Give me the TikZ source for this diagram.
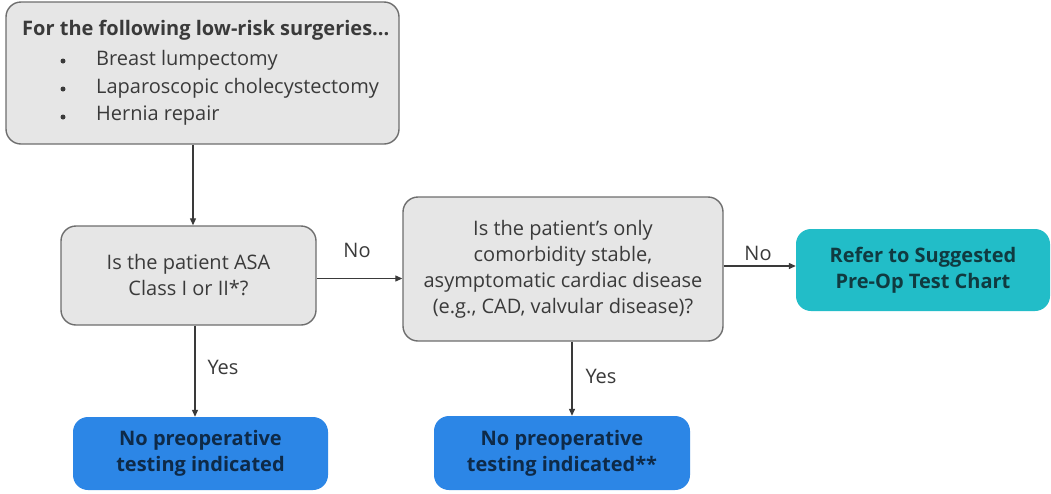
\documentclass[tikz,border=0pt]{standalone}
\usepackage{fontspec}
\setmainfont{Open Sans}
\usetikzlibrary{arrows.meta}
\definecolor{boxfill}{HTML}{E6E6E6}
\definecolor{boxline}{HTML}{6E6E6E}
\definecolor{txt}{HTML}{3A3A3A}
\definecolor{teal}{HTML}{22BDC8}
\definecolor{blu}{HTML}{2C86E6}
\definecolor{navy}{HTML}{0E2A48}
\definecolor{darkteal}{HTML}{103A40}
\tikzset{
  base/.style={rounded corners=15pt, align=center, inner sep=0pt, font=\fontsize{20}{26}\selectfont},
  grey/.style={base, draw=boxline, line width=1.4pt, fill=boxfill, text=txt},
  tealbox/.style={base, fill=teal, text=darkteal, font=\fontsize{20}{26}\selectfont\bfseries},
  bluebox/.style={base, fill=blu, text=navy, font=\fontsize{20}{26}\selectfont\bfseries},
  arr/.style={draw=txt, line width=1.2pt, -{Triangle[length=7pt,width=6pt]}},
  lbl/.style={text=txt, font=\fontsize{20}{24}\selectfont, inner sep=0pt},
  item/.style={text=txt, anchor=west, inner sep=0pt, font=\fontsize{20}{28}\selectfont}
}
\begin{document}
\begin{tikzpicture}[x=1pt,y=-1pt]
\useasboundingbox[fill=white] (0,0) rectangle (1051,493);
\node[grey, minimum width=393pt, minimum height=142pt] (top) at (202.5,73) {};
\node[text=txt, font=\fontsize{20}{26}\selectfont\bfseries, anchor=west, inner sep=0pt] (title) at (22,30) {For the following low-risk surgeries...};
\node[item] (l1) at (96,60) {Breast lumpectomy};
\node[item] (l2) at (96,88) {Laparoscopic cholecystectomy};
\node[item] (l3) at (96,116) {Hernia repair};
\foreach \y/\n in {61/b1,89/b2,117/b3} \node[circle, fill=txt, inner sep=0pt, minimum size=5pt] (\n) at (63,\y) {};
\node[grey, minimum width=255pt, minimum height=99pt] (asa) at (188.5,275.5) {Is the patient ASA\\Class I or II*?};
\node[grey, minimum width=320pt, minimum height=144pt] (card) at (563,269) {Is the patient’s only\\comorbidity stable,\\asymptomatic cardiac disease\\(e.g., CAD, valvular disease)?};
\node[tealbox, minimum width=254pt, minimum height=82pt] (ref) at (923,270) {Refer to Suggested\\Pre-Op Test Chart};
\node[bluebox, minimum width=255pt, minimum height=73pt] (n1) at (200.5,453.5) {No preoperative\\testing indicated};
\node[bluebox, minimum width=256pt, minimum height=74pt] (n2) at (562,453) {No preoperative\\testing indicated**};
\draw[arr] ([xshift=-9.5pt]top.south) -- ([xshift=4.5pt]asa.north);
\draw[arr] ([yshift=-3pt]asa.east) -- ([yshift=-3pt]asa.east -| card.west);
\draw[arr] ([yshift=3pt]card.east) -- ([yshift=3pt]card.east -| ref.west);
\draw[arr] ([xshift=6.5pt]asa.south) -- ([xshift=-5.5pt]n1.north);
\draw[arr] ([xshift=9pt]card.south) -- ([xshift=10pt]n2.north);
\node[lbl] (no1) at (357,250) {No};
\node[lbl] (no2) at (758,253) {No};
\node[lbl] (yes1) at (223,367) {Yes};
\node[lbl] (yes2) at (601,376) {Yes};
\end{tikzpicture}
\end{document}
